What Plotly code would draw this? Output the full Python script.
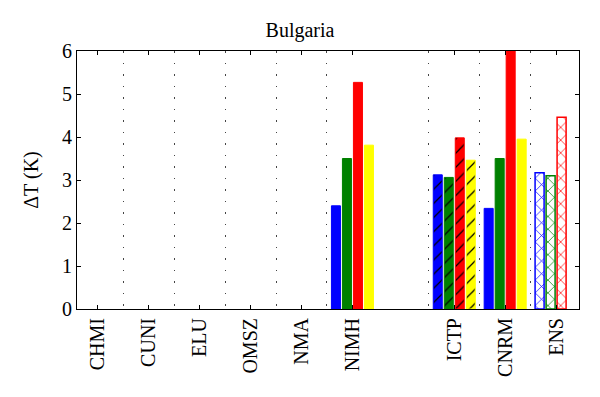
import plotly.graph_objects as go

categories = ["CHMI", "CUNI", "ELU", "OMSZ", "NMA", "NIMH", "ICTP", "CNRM", "ENS"]
positions = [1, 2, 3, 4, 5, 6, 8, 9, 10]

series_names = ["S1", "S2", "S3", "S4"]
series_colors = ["#0000FF", "#008000", "#FF0000", "#FFFF00"]
s1 = [None, None, None, None, None, 2.40, 3.12, 2.34, 3.17]
s2 = [None, None, None, None, None, 3.50, 3.06, 3.50, 3.10]
s3 = [None, None, None, None, None, 5.27, 3.98, 6.10, 4.46]
s4 = [None, None, None, None, None, 3.81, 3.46, 3.95, None]
series_values = [s1, s2, s3, s4]

# hatch style per category: "" plain, "/" hatched (ICTP), "x" cross-hatched outline (ENS)
hatch = ["", "", "", "", "", "", "/", "", "x"]

FONT = "'Times New Roman', 'Liberation Serif', 'DejaVu Serif', serif"

fig = go.Figure()
for i, (name, col, vals) in enumerate(zip(series_names, series_colors, series_values)):
    for style in ["", "/", "x"]:
        xs = [p for p, h in zip(positions, hatch) if h == style]
        ys = [v for v, h in zip(vals, hatch) if h == style]
        if style == "":
            marker = dict(color=col, line=dict(color=col, width=1))
        elif style == "/":
            marker = dict(color=col, line=dict(color=col, width=1),
                          pattern=dict(shape="/", fgcolor="black", bgcolor=col,
                                       size=10, solidity=0.12, fillmode="replace"))
        else:
            marker = dict(color="white", line=dict(color=col, width=1.5),
                          pattern=dict(shape="x", fgcolor=col, bgcolor="white",
                                       size=9, solidity=0.15, fillmode="replace"))
        fig.add_trace(go.Bar(x=xs, y=ys, name=name, showlegend=False,
                             offsetgroup=str(i), marker=marker))

sep = [p - 0.5 for p in positions[1:]]

# page body has an 8px default margin, so the figure is offset by 8px
W, H = 592, 389

fig.update_layout(
    width=W, height=H,
    barmode="group", bargap=0.136, bargroupgap=0.18,
    plot_bgcolor="white", paper_bgcolor="white",
    margin=dict(l=69, r=21, t=43, b=88),
    font=dict(family=FONT, size=20, color="black"),
    title=dict(text="Bulgaria", x=(300 - 8) / W, xanchor="center", xref="container",
               yref="container", y=1 - 22 / H, yanchor="middle", automargin=False,
               font=dict(family=FONT, size=20, color="black")),
    xaxis=dict(
        range=[0.59, 10.45], tickvals=positions, ticktext=categories,
        tickangle=-90, ticks="inside", ticklen=4, tickcolor="black",
        showline=True, linecolor="black", linewidth=1, mirror="ticks",
        showgrid=False, zeroline=False, tickfont=dict(family=FONT, size=20),
        automargin=False,
        minor=dict(tickmode="array", tickvals=sep, showgrid=True,
                   gridcolor="#444444", griddash="1.5px,10px", gridwidth=1.2, ticks=""),
    ),
    yaxis=dict(
        range=[0, 6], dtick=1, ticks="inside", ticklen=4, tickcolor="black",
        showline=True, linecolor="black", linewidth=1, mirror="ticks",
        showgrid=False, zeroline=False, tickfont=dict(family=FONT, size=20),
        automargin=False,
        title=dict(text="ΔT (K)", font=dict(family=FONT, size=20), standoff=18),
    ),
)

fig.write_html("out.html")
